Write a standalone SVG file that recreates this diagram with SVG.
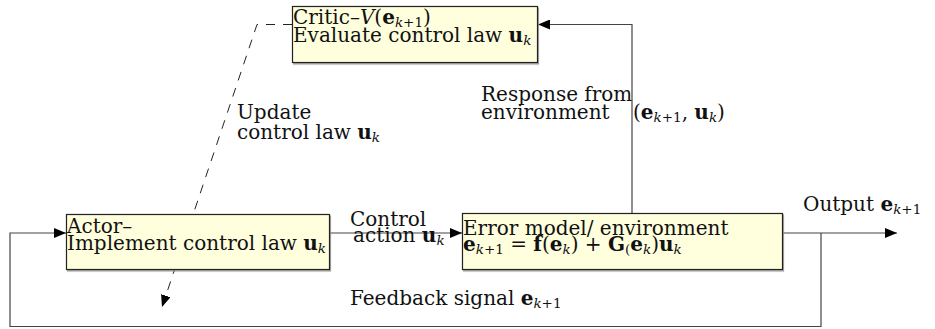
<svg xmlns="http://www.w3.org/2000/svg" width="935" height="329" viewBox="0 0 935 329">
<defs>
<marker id="ah" viewBox="0 0 12 10" refX="12" refY="5" markerWidth="12" markerHeight="10" markerUnits="userSpaceOnUse" orient="auto">
<path d="M0,0 L12,5 L0,10 z" fill="#000"/>
</marker>
<filter id="sh" x="-5%" y="-5%" width="110%" height="120%">
<feDropShadow dx="1" dy="1.5" stdDeviation="0.6" flood-color="#888" flood-opacity="0.8"/>
</filter>
</defs>
<style>
text{font-family:"DejaVu Serif","Liberation Serif",serif;font-size:20px;fill:#111}
.box{fill:#FFFFDD;stroke:#222;stroke-width:1.2;filter:url(#sh)}
.ln{fill:none;stroke:#444;stroke-width:1.2}
.dash{fill:none;stroke:#222;stroke-width:1;stroke-dasharray:9 8}
.b{font-weight:bold}
.i{font-style:italic}
.s{font-size:13.5px;font-style:italic}
.n{font-size:13.5px}
</style>
<g id="connectors">
<path class="ln" d="M330,233 L462,233" marker-end="url(#ah)"/>
<path class="ln" d="M632,213 L632,24.5 L538,24.5" marker-end="url(#ah)"/>
<path class="ln" d="M783,233 L897,233" marker-end="url(#ah)"/>
<path class="ln" d="M821,233 L821,326.5 L10,326.5 L10,233 L66,233" marker-end="url(#ah)"/>
<path class="dash" d="M292,24.5 L257,24.5 L162,307" marker-end="url(#ah)"/>
</g>
<g id="critic">
<rect class="box" x="292.5" y="6.5" width="245" height="56"/>
<text x="293" y="24">Critic–<tspan class="i">V</tspan>(<tspan class="b">e</tspan><tspan class="s" dy="3">k</tspan><tspan class="n">+1</tspan><tspan dy="-3">)</tspan></text>
<text x="293" y="42">Evaluate control law <tspan class="b">u</tspan><tspan class="s" dy="3">k</tspan></text>
</g>
<g id="actor">
<rect class="box" x="66.5" y="214.5" width="263" height="55"/>
<text x="67" y="233">Actor–</text>
<text x="67" y="250">Implement control law <tspan class="b">u</tspan><tspan class="s" dy="3">k</tspan></text>
</g>
<g id="environment">
<rect class="box" x="462.5" y="213.5" width="320" height="56"/>
<text x="463" y="235">Error model/ environment</text>
<text x="463" y="251"><tspan class="b">e</tspan><tspan class="s" dy="3">k</tspan><tspan class="n">+1</tspan><tspan dy="-3"> = </tspan><tspan class="b">f</tspan>(<tspan class="b">e</tspan><tspan class="s" dy="3">k</tspan><tspan dy="-3">) + </tspan><tspan class="b">G</tspan><tspan class="n" dy="3">(</tspan><tspan dy="-3" class="b">e</tspan><tspan class="s" dy="3">k</tspan><tspan dy="-3">)</tspan><tspan class="b">u</tspan><tspan class="s" dy="3">k</tspan></text>
</g>
<g id="labels">
<text x="350" y="226">Control</text>
<text x="353" y="242">action <tspan class="b">u</tspan><tspan class="s" dy="3">k</tspan></text>
<text x="803" y="211">Output <tspan class="b">e</tspan><tspan class="s" dy="3">k</tspan><tspan class="n">+1</tspan></text>
<text x="350" y="305">Feedback signal <tspan class="b">e</tspan><tspan class="s" dy="3">k</tspan><tspan class="n">+1</tspan></text>
<text x="237" y="119">Update</text>
<text x="237" y="139">control law <tspan class="b">u</tspan><tspan class="s" dy="3">k</tspan></text>
<text x="481" y="101">Response from</text>
<text x="481" y="119">environment</text>
<text x="633" y="119">(<tspan class="b">e</tspan><tspan class="s" dy="3">k</tspan><tspan class="n">+1</tspan><tspan dy="-3">, </tspan><tspan class="b">u</tspan><tspan class="s" dy="3">k</tspan><tspan dy="-3">)</tspan></text>
</g>
</svg>
